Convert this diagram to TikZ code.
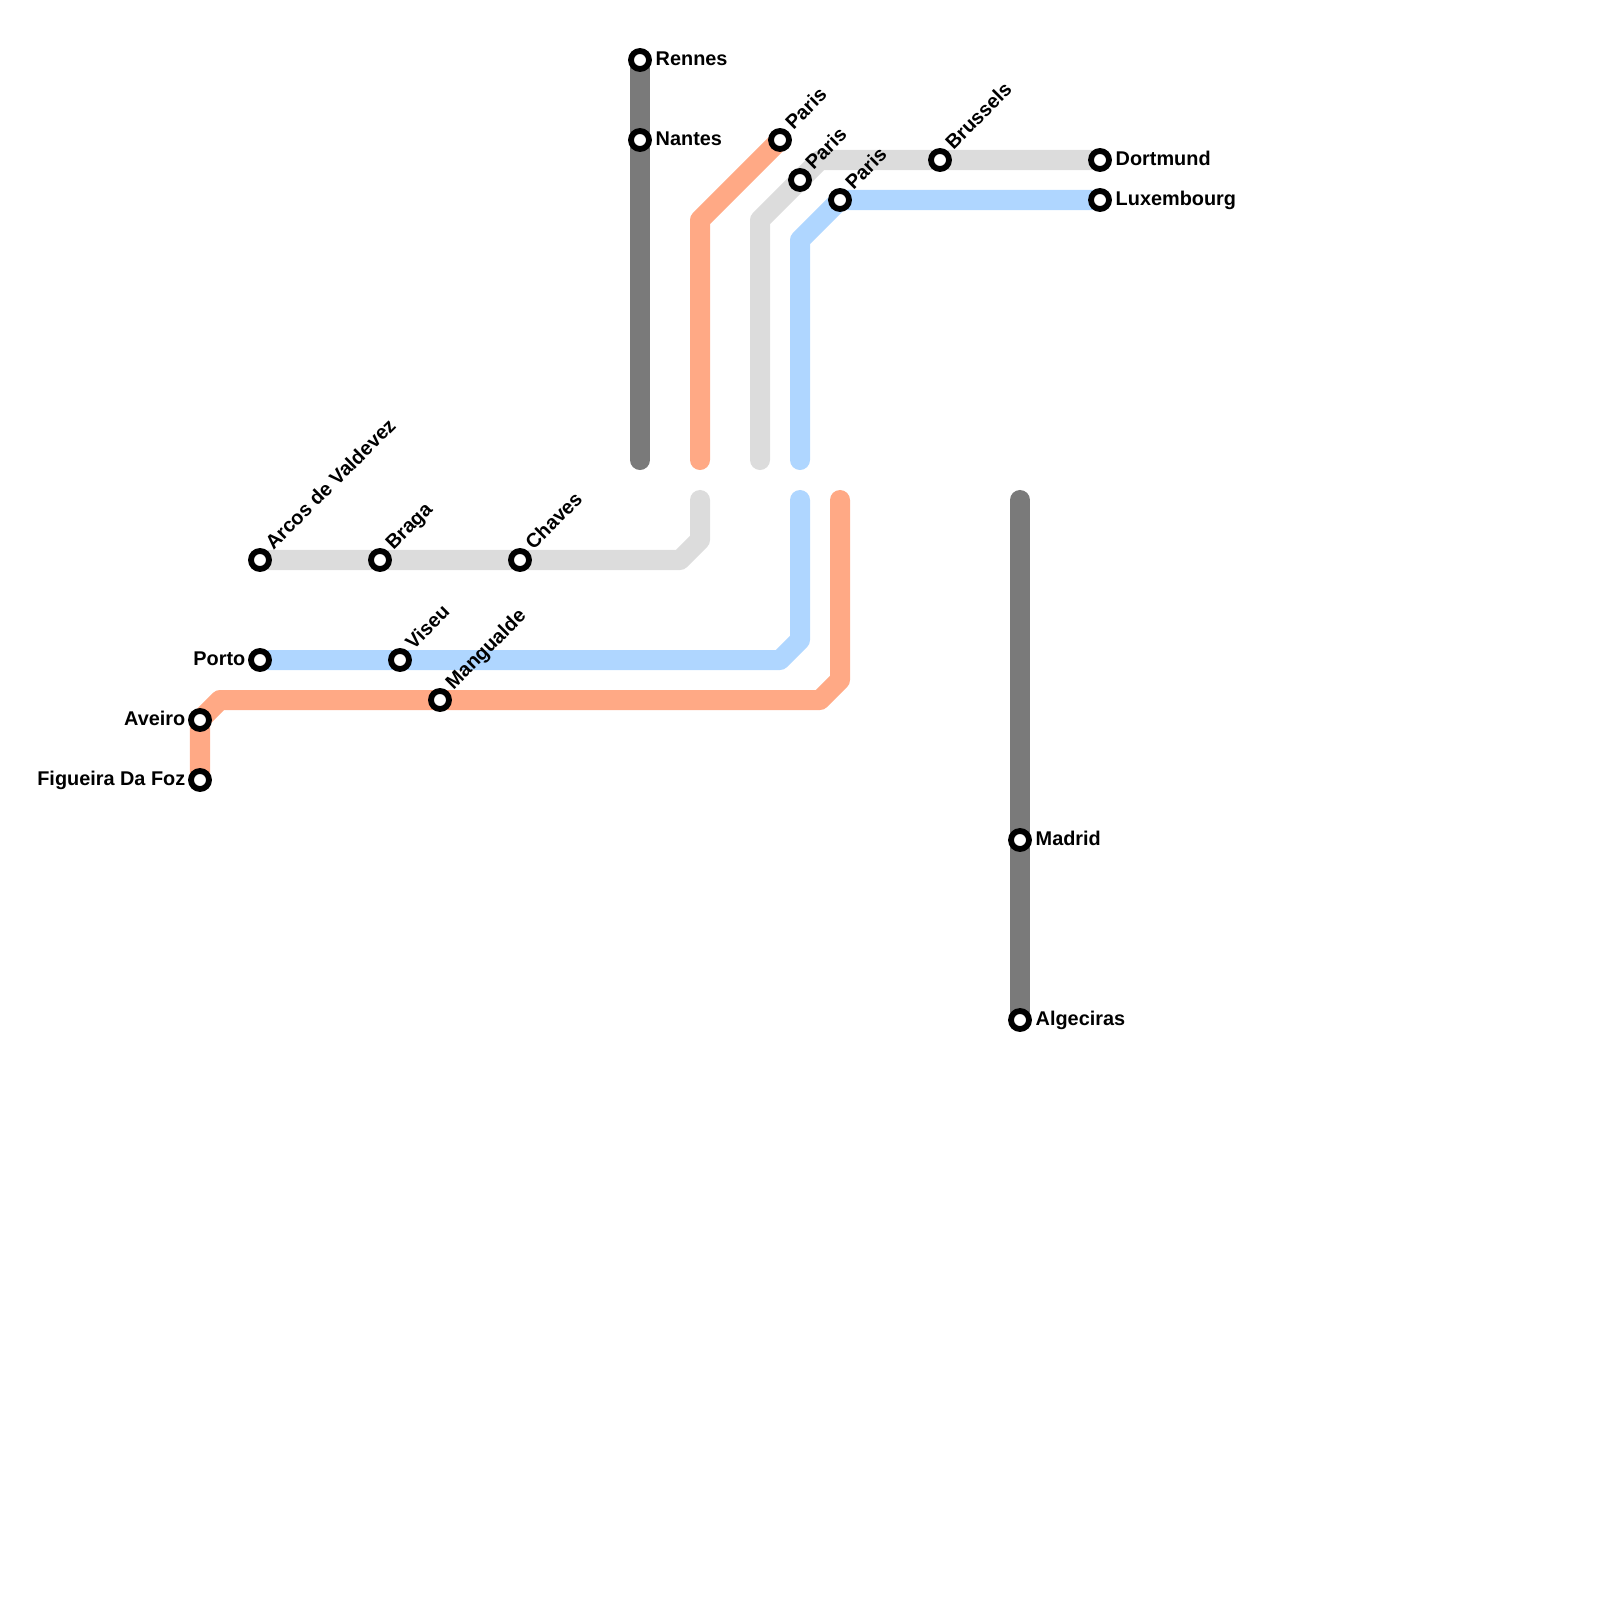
\documentclass[tikz,border=0pt]{standalone}
\usepackage{fontspec}
\setmainfont{Liberation Sans}
\usetikzlibrary{backgrounds}
\definecolor{lineorange}{HTML}{FFA985}
\definecolor{lineblue}{HTML}{AFD6FF}
\definecolor{linegrey}{HTML}{DCDCDC}
\definecolor{linedark}{HTML}{7A7A7A}
\tikzset{
  route/.style={line width=0.2cm,line cap=round,line join=round},
  station/.style={circle,draw=black,fill=white,line width=0.058cm,minimum size=0.18cm,inner sep=0pt},
  stationtext/.style={inner sep=0pt,font=\fontsize{5.65}{6.8}\selectfont\bfseries,text=black},
  textright/.style={stationtext,anchor=base west,xshift=0.15cm,yshift=-0.05cm},
  textleft/.style={stationtext,anchor=base east,xshift=-0.14cm,yshift=-0.05cm},
  textdiag/.style={stationtext,anchor=base west,rotate=45,xshift=0.156cm,yshift=-0.028cm},
}
\begin{document}
\begin{tikzpicture}[x=0.01cm,y=-0.01cm]
  \useasboundingbox (0,0) rectangle (1600,1600);
  \foreach \id/\x/\y in {rennes/640/60,nantes/640/140,parisorange/780/140,parisgrey/800/180,parisblue/840/200,
      brussels/940/160,dortmund/1100/160,luxembourg/1100/200,madrid/1020/840,algeciras/1020/1020,
      arcos/260/560,braga/380/560,chaves/520/560,porto/260/660,viseu/400/660,mangualde/440/700,
      aveiro/200/720,figueira/200/780}{
    \node[station] (\id) at (\x,\y) {};
  }
  % free ends at the gap and the bends
  \foreach \id/\x/\y in {darkend/640/460,darkstart/1020/500,
      orangeA/700/220,orangeB/700/460,orangeC/840/500,orangeD/840/680,orangeE/820/700,orangeF/220/700,
      greyA/820/160,greyB/760/220,greyC/760/460,greyD/700/500,greyE/700/540,greyF/680/560,
      blueA/800/240,blueB/800/460,blueC/800/500,blueD/800/640,blueE/780/660}{
    \coordinate (\id) at (\x,\y);
  }
  \begin{scope}[on background layer]
    \draw[route,linedark] (rennes.center) -- (nantes.center) -- (darkend);
    \draw[route,linedark] (darkstart) -- (madrid.center) -- (algeciras.center);
    \draw[route,lineorange] (parisorange.center) -- (orangeA) -- (orangeB);
    \draw[route,lineorange] (orangeC) -- (orangeD) -- (orangeE) -- (mangualde.center) -- (orangeF) -- (aveiro.center) -- (figueira.center);
    \draw[route,linegrey] (dortmund.center) -- (brussels.center) -- (greyA) -- (parisgrey.center) -- (greyB) -- (greyC);
    \draw[route,linegrey] (greyD) -- (greyE) -- (greyF) -- (chaves.center) -- (braga.center) -- (arcos.center);
    \draw[route,lineblue] (luxembourg.center) -- (parisblue.center) -- (blueA) -- (blueB);
    \draw[route,lineblue] (blueC) -- (blueD) -- (blueE) -- (viseu.center) -- (porto.center);
  \end{scope}
  \foreach \id/\txt in {rennes/Rennes,nantes/Nantes,dortmund/Dortmund,luxembourg/Luxembourg,madrid/Madrid,algeciras/Algeciras}{
    \node[textright] (text\id) at (\id.center) {\txt};
  }
  \foreach \id/\txt in {porto/Porto,aveiro/Aveiro,figueira/Figueira Da Foz}{
    \node[textleft] (text\id) at (\id.center) {\txt};
  }
  \foreach \id/\txt in {parisorange/Paris,parisgrey/Paris,parisblue/Paris,brussels/Brussels,arcos/Arcos de Valdevez,
      braga/Braga,chaves/Chaves,viseu/Viseu,mangualde/Mangualde}{
    \node[textdiag] (text\id) at (\id.center) {\txt};
  }
\end{tikzpicture}
\end{document}
